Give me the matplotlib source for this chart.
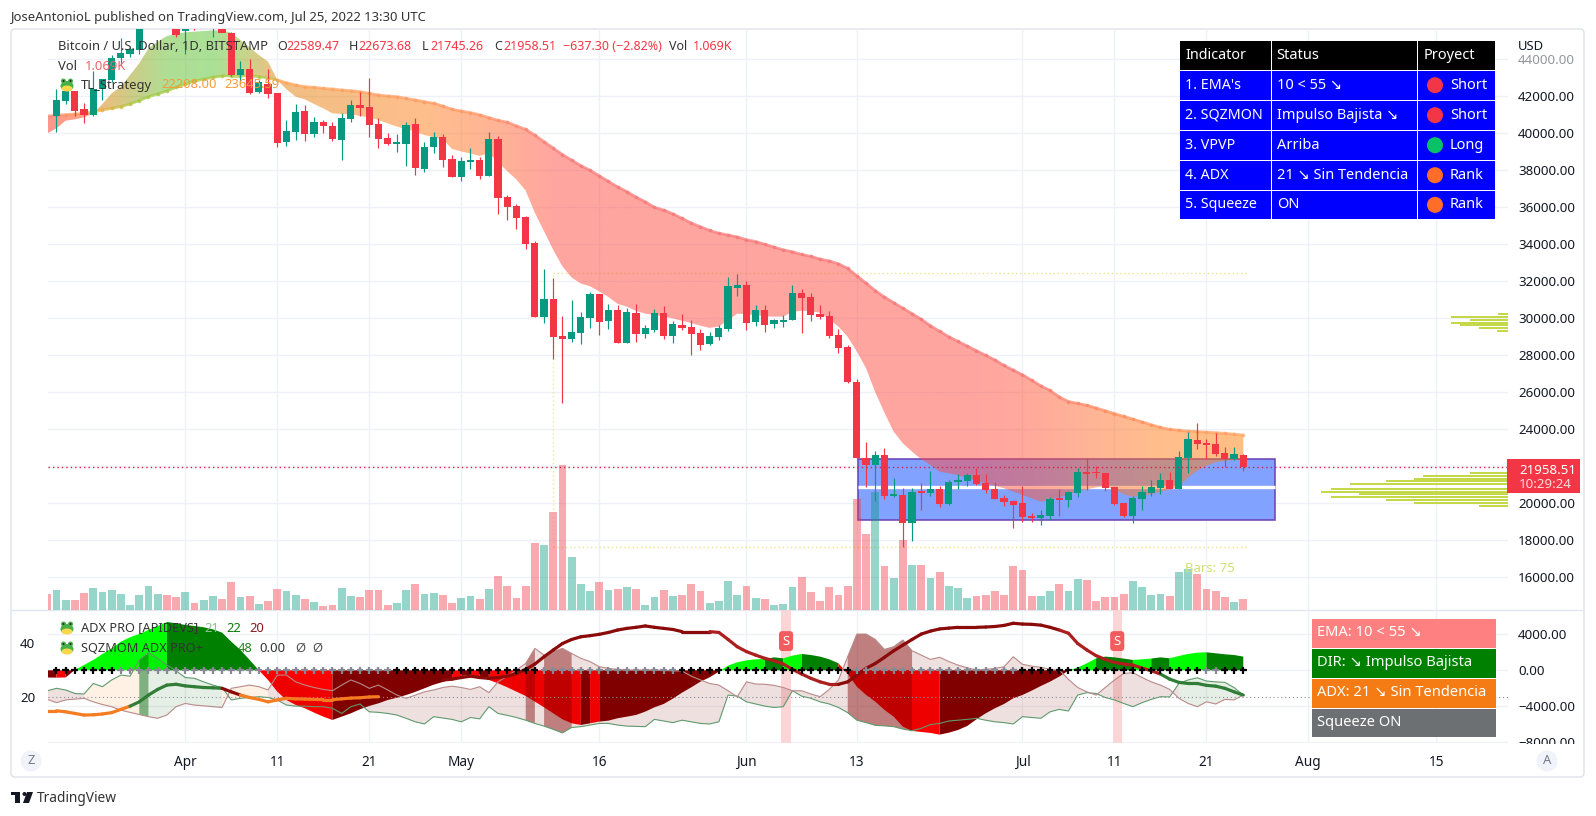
import numpy as np
import matplotlib
matplotlib.use("Agg")
import matplotlib.pyplot as plt
from matplotlib.patches import FancyBboxPatch, Ellipse, Rectangle, Polygon
from matplotlib.transforms import IdentityTransform

plt.rcParams["font.family"] = ["Noto Sans", "DejaVu Sans"]
W, H = 1596, 816

# ---------- DATA: day index 0 = 2022-03-18 ----------
opens = [40935,41746,42286,41313,40971,42376,42881,44052,44287,44503,
 46800,47130,47450,47070,45530,46280,45810,46400,46600,45440,
 43150,43476,42250,42665,42160,39530,40088,41205,39962,40610,
 40394,39637,40773,41530,41421,40502,39745,39421,39421,40502,
 38070,39259,39782,38593,37656,38467,38557,37692,39692,36538,
 36070,35457,34052,30087,31024,29024,28898,29222,30033,31313,
 29871,30447,28682,30286,29168,29366,30286,29042,29618,29528,
 29204,28591,29006,29420,31655,31799,29799,30447,29691,29817,
 29925,31367,31150,30231,30123,29096,28430,26573,22430,22088,
 22610,20394,20450,18950,20610,20555,20770,19962,21150,21205,
 21530,21079,20773,20286,20106,20016,19313,19223,19313,20232,
 20178,20574,21692,21656,21638,20863,20016,19313,20250,20574,
 20827,21259,20773,22430,23422,23277,23205,22700,22412,22589]
highs = [42376,42700,42286,41620,43350,42953,44232,45134,44683,46900,
 48200,48100,47700,47600,46700,47200,47450,46880,47200,45500,
 43908,44016,42880,43458,42160,40718,41566,41530,40863,40718,
 40610,41115,41800,42250,42971,40809,39990,39962,40592,40809,
 39511,40070,39962,38827,38701,39187,38701,40052,39854,36664,
 36178,35529,34196,32646,32160,30123,30970,30340,31403,31313,
 30772,30700,30538,30772,29618,30502,30646,29835,30231,29889,
 29402,29258,29654,32214,32394,31997,30700,30700,29979,30159,
 31781,31565,31349,30700,30376,29402,28555,26700,23295,22827,
 22970,21350,20810,20810,21080,21746,20935,21260,21580,21620,
 21890,21583,21169,20448,20178,20935,19457,19620,20322,20755,
 20683,21890,22430,22016,21638,20863,20016,20394,20935,21259,
 21620,21710,22827,23872,24340,23457,23782,23025,23043,22673]
lows = [40088,41584,40935,40575,40935,41800,42791,43692,44142,44300,
 46650,46950,46600,45200,44287,45600,45700,45190,45600,43100,
 42791,42124,42160,41890,39240,39331,39637,39601,39818,40034,
 39601,38556,40628,40935,39818,39205,39367,38970,38232,37745,
 37926,38917,38196,37656,37440,38088,37548,37692,35637,35313,
 34844,33745,30087,29763,27800,25438,28735,28628,29492,29114,
 29438,28682,28682,28735,28952,29258,28898,28682,29366,28015,
 28285,28555,28826,29330,31222,29366,29600,29258,29493,29546,
 29907,29222,29871,29979,28916,28141,26483,22400,20900,20140,
 20250,20320,17655,17980,19640,20412,19820,19890,20790,20935,
 21007,20575,20214,19871,18682,19007,18988,18845,19097,19331,
 19818,20358,20719,21350,20683,19890,19250,18953,19637,20412,
 20502,20773,20773,21620,22953,22412,22575,21980,22340,21745]
closes = [41800,42268,41205,40989,42376,42935,44052,44340,44539,46800,
 47130,47450,47070,45314,46280,45810,46400,46600,45440,43150,
 43476,42160,42755,42124,39493,40124,41133,39962,40610,40412,
 39691,40827,41530,41367,40448,39709,39403,39457,40448,38142,
 39259,39781,38557,37656,38503,38557,37692,39692,36520,36034,
 35439,34016,30087,31024,29006,28898,29240,30069,31313,29817,
 30447,28682,30340,29168,29475,30286,29042,29691,29475,29168,
 28555,29042,29475,31745,31799,29763,30447,29655,29907,29907,
 31367,31114,30195,30087,29060,28411,26573,22430,22088,22610,
 20394,20484,18950,20610,20555,20770,19962,21150,21260,21510,
 21043,20719,20250,20088,19908,19277,19223,19349,20214,20196,
 20610,21692,21602,21620,20827,19962,19313,20286,20610,20880,
 21259,20773,22503,23476,23205,23169,22647,22412,22665,21958.51]

# from day -1 (2022-03-17) to day 129 (2022-07-25)
volume_k = [1.6,2.0,1.0,1.0,1.7,2.2,1.8,2.0,1.6,0.5,1.5,2.4,1.6,1.5,1.3,1.8,0.7,1.0,1.4,1.1,
 2.8,1.3,1.4,0.6,0.9,2.1,1.9,1.5,1.1,0.8,0.4,0.5,2.2,1.4,1.3,2.0,2.0,0.5,0.7,2.0,2.6,1.6,1.7,1.5,0.7,
 1.2,1.4,1.1,2.1,3.4,2.4,1.2,2.4,6.7,6.5,9.8,14.5,5.3,2.6,1.9,2.8,2.0,2.1,2.3,2.1,0.5,1.3,2.0,1.4,1.5,
 2.6,1.9,0.7,0.9,2.9,1.5,2.4,1.2,1.1,0.5,0.6,2.3,3.3,1.8,0.9,2.3,1.5,2.4,11.1,7.6,11.8,4.4,3.2,7.0,4.5,
 4.5,3.2,3.8,2.4,2.2,1.2,1.4,1.5,1.9,1.5,4.4,4.0,1.4,1.4,1.9,2.6,1.9,3.1,3.0,0.9,1.3,1.3,1.6,2.9,2.3,
 1.5,1.6,1.4,3.8,4.1,3.6,2.1,1.9,1.3,0.8,1.07]

ema_slow = [40935,40971,41007,41043,41079,41169,41259,41349,41440,41584,41764,41980,42124,42286,42484,42647,
 42827,42917,43025,43097,43115,43115,43097,43061,42990,42880,42737,42611,42520,42484,42430,42394,42340,
 42304,42250,42160,42070,42016,41980,41890,41800,41710,41620,41475,41300,41200,41120,41000,40850,40700,
 40600,40400,40214,39900,39550,39200,38850,38550,38250,38000,37700,37400,37100,36850,36550,36300,36000,
 35850,35650,35400,35150,34950,34750,34600,34500,34400,34250,34150,34000,33850,33700,33600,33450,33350,
 33200,33100,32950,32700,32300,31900,31500,31150,30850,30550,30250,29950,29600,29300,29000,28750,28500,
 28250,28000,27750,27450,27200,26950,26650,26350,26100,25750,25500,25400,25300,25150,25000,24850,24700,
 24550,24400,24250,24100,24000,23950,23900,23880,23850,23820,23780,23740,23690]
ema_fast = [40000,40268,40683,40755,40863,41079,41584,42160,42520,43151,43782,44593,44953,45260,45368,45458,
 45494,45530,45566,45548,45440,45043,44647,44233,43872,42880,42376,41980,41836,41584,41349,41079,41043,
 41025,40935,40863,40719,40538,40358,40232,40088,39908,39781,39674,39150,39020,38910,38780,38920,38450,
 37950,37500,36900,35700,34700,33700,32800,32200,31880,31730,31450,31150,30780,30630,30400,30250,30180,
 30100,29990,29870,29740,29600,29480,29560,29900,30250,30220,30170,30100,30090,30090,30350,30410,30380,
 30300,29950,29550,29000,28200,27300,26000,24900,23870,23241,22790,22376,22070,21710,21620,21510,21350,
 21223,21079,20950,20810,20630,20448,20270,20088,20178,20322,20485,20630,20755,20863,20935,20755,20485,
 20358,20412,20502,20610,20755,20863,21403,21764,22034,22214,22304,22340,22376]

momentum = [-800,-815,-800,50,590,1150,1815,2445,3185,3670,4040,4480,4925,5370,5220,5040,4925,4780,4555,4185,
 3185,2260,1150,0,-1075,-2370,-3300,-3850,-4220,-4700,-5150,-5520,-5150,-4780,-4330,-3960,-3670,-3300,
 -3050,-2750,-2400,-2000,-1600,-1300,-1000,-630,-520,-700,-1075,-1445,-1890,-2370,-2850,-3480,-4110,-4780,
 -5445,-5890,-6075,-5890,-5700,-5590,-5330,-5150,-4960,-4590,-4110,-3740,-3150,-2480,-1890,-1260,-780,-150,
 520,890,1110,1220,1260,1440,1330,1630,1815,1700,1520,1220,780,-400,-1815,-2740,-3480,-4400,-5150,-6260,
 -6740,-6850,-6960,-7150,-6930,-6630,-6185,-5445,-4780,-4220,-3740,-3110,-2740,-2260,-1740,-1260,-700,-30,
 300,780,1330,1520,1440,1300,1150,1220,1300,1440,1330,1590,1815,1960,2000,1890,1780,1700,1520]
mom_state = (list("MMRM") + ["L"]*10 + ["G"]*10 + ["R"]*8 + ["M"]*13 + list("RMRM") + ["R"]*10 + list("MR")
 + ["M"]*13 + ["L"]*5 + ["G"]*2 + ["L"]*2 + ["G"]*4 + ["R"]*11 + ["M"]*14 + ["L"]*3 + ["G"]*4 + ["L"]*2
 + ["G"]*2 + ["L"]*4 + ["G"]*4)

di_plus = [22.2,23.1,22.5,21.2,21.0,24.9,23.7,26.2,28.0,27.6,33.6,36.3,34.2,31.7,29.6,27.1,26.8,25.5,24.3,23.4,
 18.8,19.4,19.7,20.0,19.7,18.8,16.9,16.5,16.5,16.3,16.3,15.7,13.8,16.3,17.3,14.4,14.2,13.8,13.2,12.0,10.7,9.9,
 12.6,12.1,11.6,10.7,12.3,11.8,16.3,13.8,13.1,12.3,11.3,10.1,9.1,7.9,6.6,8.6,8.9,9.5,10.1,10.1,9.5,9.1,9.0,8.9,
 11.6,11.0,10.4,11.3,10.7,10.1,9.9,10.7,20.6,20.2,18.1,17.3,16.5,16.0,16.3,22.2,20.2,19.4,18.1,17.3,16.0,14.1,
 11.3,10.4,9.4,9.2,8.9,8.0,7.4,8.3,9.7,10.1,11.0,11.3,11.6,12.0,11.3,10.7,10.4,9.9,12.6,12.3,12.0,14.4,15.3,14.7,
 20.6,21.5,21.2,19.7,18.8,17.5,16.3,17.8,19.0,20.0,19.9,24.9,26.2,27.0,25.8,25.5,25.3,23.4,20.6]
di_minus = [19.0,17.8,18.8,19.1,19.4,18.1,17.1,16.3,15.0,14.2,13.4,12.6,12.0,13.2,16.3,17.5,16.9,16.6,16.3,16.0,
 23.1,23.7,24.3,23.7,22.5,28.0,28.0,25.5,24.3,23.4,22.7,22.2,24.3,26.2,24.9,23.1,24.3,22.5,20.6,19.4,20.6,21.8,
 22.5,23.4,23.9,23.4,22.7,23.7,21.5,25.5,27.6,29.9,32.3,37.9,35.4,36.7,37.9,36.0,34.2,33.0,31.1,30.5,30.1,29.9,
 29.9,29.9,29.9,29.7,29.6,29.5,27.6,26.2,24.9,24.3,22.2,20.0,25.5,24.7,24.6,24.2,23.4,22.2,22.2,21.0,20.0,22.7,
 26.2,34.8,43.2,43.2,41.2,37.5,38.5,41.0,37.0,35.4,33.8,34.6,33.0,31.7,30.7,29.9,30.1,30.5,31.1,34.8,32.0,31.3,
 30.9,30.1,29.9,26.4,23.4,21.8,20.6,23.4,26.2,28.6,28.9,27.1,25.5,24.3,22.7,19.4,17.5,16.3,18.1,17.3,19.0,18.8,20.6]
nan = float("nan")
adx = [14.8,14.8,14.4,13.8,13.2,13.3,13.6,14.1,15.3,16.5,18.1,20.6,22.7,24.3,24.6,24.0,23.7,23.4,23.3,23.1,21.8,
 20.6,19.7,19.0,18.1,18.8,19.4,19.2,19.1,19.0,18.9,18.9,19.2,19.5,19.6,19.9,20.0,nan,nan,nan,nan,nan,nan,
 26.2,26.5,27.1,27.6,27.1,26.8,27.1,27.6,28.6,30.1,32.1,34.8,37.3,39.7,41.2,42.2,42.6,43.1,43.8,44.7,45.3,45.7,
 46.2,45.7,45.3,44.9,44.1,44.1,44.1,44.1,43.8,41.2,38.5,36.7,35.4,34.2,33.3,32.1,30.1,28.4,26.8,25.5,24.6,24.6,25.5,
 28.0,30.5,32.3,34.6,37.0,39.1,41.2,43.2,44.3,45.1,45.4,45.7,45.7,45.7,45.8,46.0,46.4,47.2,46.9,46.8,46.5,45.7,44.7,
 43.5,39.7,37.3,35.2,33.8,32.7,32.1,31.7,30.6,29.6,28.4,26.5,25.3,24.9,24.9,24.2,23.9,23.1,21.8,20.6]
adx_state = (["o"]*10 + ["g"]*10 + ["m"]*2 + ["o"]*21 + ["m"]*30 + ["f"]*14 + ["m"]*24 + ["f"]*11 + ["g"]*9)
di_state = (["p"]*5 + ["o"]*6 + ["D"] + ["g"]*8 + ["o"]*5 + ["p"]*28 + ["R"] + ["p"] + ["R"]*3 + ["p"]*30
 + ["R"]*7 + ["p"]*29 + ["g"]*7)
squeeze_on = ([1]*7 + [0]*30 + [1]*16 + [0]*15 + [1]*19 + [0]*18 + [1]*20 + [0]*2 + [1]*3)  # from day 0
sell_days = [79, 115]

vp_prices = [30215,30052,29890,29764,29620,29476,29332,21619,21475,21313,21187,21043,20790,20628,20484,20321,20177,20033,19871]
vp_volume = [10,57,38,57,48,29,11,38,85,94,122,158,177,187,149,177,122,94,29]

box_top, box_bottom, box_mid = 22410, 19080, 20897
box_start, box_end = 87.15, 132.4
pivot_high, pivot_low, pivot_day, pivot_end = 32432, 17655, 54, 129.5
last_price = 21958.51

price_ticks = list(range(16000, 44001, 2000))
osc_ticks = [4000, 0, -4000, -8000]
adx_ticks = [40, 20]
date_ticks = [14, 24, 34, 44, 59, 75, 87, 105, 115, 125, 136, 150]
date_labels = ["Apr", "11", "21", "May", "16", "Jun", "13", "Jul", "11", "21", "Aug", "15"]
month_labels = {"Apr", "May", "Jun", "Jul", "Aug"}

table_rows = [("Indicator", "Status", "Proyect", None),
              ("1. EMA's", "10 < 55 ↘", "Short", "#f23645"),
              ("2. SQZMON", "Impulso Bajista ↘", "Short", "#f23645"),
              ("3. VPVP", "Arriba", "Long", "#0ac266"),
              ("4. ADX", "21 ↘ Sin Tendencia", "Rank", "#ff6d28"),
              ("5. Squeeze", "ON", "Rank", "#ff6d28")]
status_rows = [("EMA: 10 < 55 ↘", "#ff8080"), ("DIR: ↘ Impulso Bajista", "#008000"),
               ("ADX: 21 ↘ Sin Tendencia", "#f57c14"), ("Squeeze ON", "#6d7072")]

assert len(opens) == len(highs) == len(lows) == len(closes) == 130, (len(opens), len(highs), len(lows), len(closes))
for name, a in dict(v=volume_k, s=ema_slow, f=ema_fast, m=momentum, ms=mom_state, p=di_plus, n=di_minus,
                    a=adx, st=adx_state, d=di_state).items():
    assert len(a) == 131, (name, len(a))
assert len(squeeze_on) == 130

# ---------- FIGURE ----------
fig = plt.figure(figsize=(W / 100, H / 100), dpi=100, facecolor="white")
ident = IdentityTransform()
PX_L, PX_R, PX_T, PX_M, PX_B = 48, 1507.6, 29, 610, 743
XMIN, XMAX = -0.92, 157.73
SC_P = 0.0185
P_TOP, P_BOT = 20000 + (503.3 - PX_T) / SC_P, 20000 + (503.3 - PX_M) / SC_P
O_TOP, O_BOT = (670.3 - PX_M) / 0.009, (670.3 - PX_B) / 0.009
A_TOP, A_BOT = 20 + (696.7 - PX_M) / 2.7, 20 + (696.7 - PX_B) / 2.7


def add_ax(top, bottom, z):
    a = fig.add_axes([PX_L / W, 1 - bottom / H, (PX_R - PX_L) / W, (bottom - top) / H])
    a.set_xlim(XMIN, XMAX)
    a.set_zorder(z)
    for s in a.spines.values():
        s.set_visible(False)
    a.patch.set_visible(False)
    return a


def T(x, y, s, color="#131722", size=9.6, weight="normal", ha="left", z=8):
    return fig.text(x, H - y, s, transform=ident, color=color, fontsize=size, fontweight=weight,
                    ha=ha, va="center", zorder=z)


def R(x0, y0, x1, y1, color, z=5):
    fig.add_artist(Rectangle((x0, H - y1), x1 - x0, y1 - y0, transform=ident, facecolor=color,
                             edgecolor="none", zorder=z))


def frog(cx, cy):
    fig.add_artist(Ellipse((cx, H - cy - 1), 13, 10, transform=ident, fc="#47b04b", ec="none", zorder=7))
    fig.add_artist(Ellipse((cx, H - cy - 3.5), 11, 6, transform=ident, fc="#f7d84a", ec="none", zorder=7))
    for dx in (-3.5, 3.5):
        fig.add_artist(Ellipse((cx + dx, H - cy + 4), 5, 5, transform=ident, fc="#47b04b", ec="none", zorder=7))
        fig.add_artist(Ellipse((cx + dx, H - cy + 4), 2, 2, transform=ident, fc="#20301f", ec="none", zorder=7))


def runs(states):
    """Index ranges of consecutive segments that share a state."""
    out, start = [], 1
    for i in range(2, len(states) + 1):
        if i == len(states) or states[i] != states[start]:
            out.append((start - 1, i - 1, states[start]))
            start = i
    return out


GRID = "#eff1f6"
days = np.arange(-1, 130)
cdays = np.arange(0, 130)

# ---- main pane: background layer (grid, box, price axis)
ax_bg = add_ax(PX_T, PX_M, 0)
ax_bg.set_ylim(P_BOT, P_TOP)
ax_bg.set_yticks(price_ticks)
ax_bg.set_yticklabels([f"{v:.2f}" for v in price_ticks])
ax_bg.yaxis.tick_right()
ax_bg.tick_params(axis="y", length=0, pad=7.5, labelsize=9.6, labelcolor="#131722")
ax_bg.get_yticklabels()[-1].set_alpha(0.45)
ax_bg.set_xticks(date_ticks)
ax_bg.tick_params(axis="x", length=0, labelbottom=False)
ax_bg.grid(True, color=GRID, lw=1)
ax_bg.set_axisbelow(True)
ax_bg.add_patch(Rectangle((box_start, box_bottom), box_end - box_start, box_top - box_bottom,
                          facecolor="#82a2ff", edgecolor="#6a3fb5", lw=1.1, zorder=2))
ax_bg.plot([box_start, box_end], [box_mid, box_mid], color="white", lw=2.4, zorder=3, solid_capstyle="butt")
ax_bg.plot([pivot_day, pivot_day], [pivot_low, pivot_high], color="#eceb9a", lw=1, ls=(0, (1, 2)), zorder=3)
ax_bg.plot([pivot_day, pivot_end], [pivot_high, pivot_high], color="#e6e68c", lw=1, ls=(0, (1, 2)), zorder=3)
ax_bg.plot([pivot_day, pivot_end], [pivot_low, pivot_low], color="#e6e68c", lw=1, ls=(0, (1, 2)), zorder=3)

# ---- volume layer
ax_vol = add_ax(PX_T, PX_M, 1)
ax_vol.set_ylim(0, (PX_M - PX_T) / 10)
ax_vol.set_xticks([]); ax_vol.set_yticks([])
vol_up = [False] + [c >= o for c, o in zip(closes, opens)]
ax_vol.bar(days, volume_k, width=0.86, color=["#089981" if u else "#f23645" for u in vol_up], alpha=0.42, lw=0)

# ---- volume profile layer
ax_vp = add_ax(PX_T, PX_M, 1)
ax_vp.set_xlim(PX_R - PX_L, 0)
ax_vp.set_ylim(P_BOT, P_TOP)
ax_vp.set_xticks([]); ax_vp.set_yticks([])
ax_vp.barh(vp_prices, vp_volume, height=112, color="#c5d84a", lw=0)

# ---- candles and ribbon
ax = add_ax(PX_T, PX_M, 2)
ax.set_ylim(P_BOT, P_TOP)
ax.set_xticks([]); ax.set_yticks([])


def premix(c):
    return [max(0, min(1, (2 * v - 255) / 255)) for v in c]


band_stops = [-1, 3.5, 5, 8, 12, 17, 20, 24, 40, 48, 54, 100, 106, 112, 120, 129]
band_rgb = [(255, 150, 140), (255, 165, 130), (235, 190, 125), (205, 205, 135), (175, 222, 148), (170, 225, 150),
            (195, 215, 140), (240, 190, 130), (255, 190, 140), (255, 180, 150), (255, 165, 160), (255, 165, 160),
            (255, 170, 155), (255, 180, 150), (255, 190, 140), (255, 190, 130)]
n_grad = 520
gx = np.linspace(-1, 129, n_grad)
grad = np.zeros((1, n_grad, 4))
for i in range(3):
    grad[0, :, i] = np.interp(gx, band_stops, [premix(c)[i] for c in band_rgb])
grad[0, :, 3] = 0.5
ribbon = ax.fill_between(days, ema_fast, ema_slow, facecolor="none", edgecolor="none", lw=0)
im = ax.imshow(grad, extent=(-1, 129, P_BOT, P_TOP), aspect="auto", origin="lower", interpolation="bilinear", zorder=3)
im.set_clip_path(ribbon.get_paths()[0], transform=ax.transData)
ax.set_xlim(XMIN, XMAX); ax.set_ylim(P_BOT, P_TOP)

line_stops = [-1, 4, 9, 23, 24.5, 45, 55, 105, 115, 129]
line_rgb = [(250, 130, 120), (250, 165, 60), (160, 200, 60), (170, 200, 60), (255, 165, 90), (255, 150, 100),
            (245, 120, 120), (245, 120, 120), (255, 140, 90), (255, 165, 100)]
for i in range(len(days) - 1):
    mid = days[i] + 0.5
    col = [np.interp(mid, line_stops, [c[k] for c in line_rgb]) / 255 for k in range(3)]
    ax.plot(days[i:i + 2], ema_slow[i:i + 2], color=col, lw=2.0, alpha=0.7, zorder=4, solid_capstyle="butt")
    ax.plot([days[i + 1]], [ema_slow[i + 1]], "o", ms=2.6, mfc=col, mec="none", alpha=0.75, zorder=4)

UP, DOWN = "#089981", "#f23645"
ccol = [UP if c >= o else DOWN for c, o in zip(closes, opens)]
ax.vlines(cdays, lows, highs, colors=ccol, lw=0.85, zorder=5)
ax.bar(cdays, [max(abs(c - o), 90) for c, o in zip(closes, opens)], bottom=[min(c, o) for c, o in zip(closes, opens)],
       width=0.78, color=ccol, lw=0, zorder=6)
ax.axhline(last_price, color="#d6204a", lw=1, ls=(0, (1, 2.2)), zorder=7)

# ---- oscillator pane
ax_s = add_ax(PX_M, PX_B, 1)
ax_s.set_ylim(O_BOT, O_TOP)
ax_s.set_yticks(osc_ticks)
ax_s.set_yticklabels(["4000.00", "0.00", "−4000.00", "−8000.00"])
ax_s.yaxis.tick_right()
ax_s.tick_params(axis="y", length=0, pad=7.5, labelsize=9.6, labelcolor="#131722")
ax_s.set_xticks(date_ticks)
ax_s.set_xticklabels(date_labels)
ax_s.tick_params(axis="x", length=0, pad=8.5, labelsize=9.8, labelcolor="#131722")
for t, s in zip(ax_s.get_xticklabels(), date_labels):
    if s in month_labels:
        t.set_fontweight("bold")
ax_s.grid(True, color=GRID, lw=1)
ax_s.set_axisbelow(True)
for d in sell_days:
    ax_s.axvspan(d - 0.2, d + 0.8, color="#fcd6d6", lw=0, zorder=0.6)
mom_col = {"L": "#00ff00", "G": "#008000", "R": "#ff0000", "M": "#800000"}
for i0, i1, st in runs(mom_state):
    c = mom_col[st]
    ax_s.fill_between(days[i0:i1 + 1], momentum[i0:i1 + 1], 0, facecolor=c, edgecolor="none", lw=0, zorder=1)

ax_a = add_ax(PX_M, PX_B, 2)
ax_a.set_ylim(A_BOT, A_TOP)
ax_a.set_yticks(adx_ticks)
ax_a.set_xticks([])
ax_a.tick_params(axis="y", length=0, pad=9, labelsize=9.6, labelcolor="#131722")
di_col = {"p": (0.5, 0, 0, 0.12), "R": (0.5, 0, 0, 0.5), "o": (1, 0.5, 0, 0.1), "g": (0, 0.39, 0, 0.1), "D": (0, 0.39, 0, 0.5)}
for i0, i1, st in runs(di_state):
    ax_a.fill_between(days[i0:i1 + 1], di_plus[i0:i1 + 1], di_minus[i0:i1 + 1], facecolor=di_col[st],
                      edgecolor="none", lw=0, zorder=1)
ax_a.plot(days, di_plus, color="#5f9a6c", lw=0.8, zorder=2)
ax_a.plot(days, di_minus, color="#b98a8a", lw=0.8, zorder=2)
ax_a.axhline(20, color="#8a8e99", lw=0.8, ls=(0, (1, 2.5)), zorder=2)
adx_col = {"o": "#f57c20", "g": "#2f7d36", "m": "#8b0a0a", "f": "#ad1f1f"}
for i in range(len(days) - 1):
    ax_a.plot(days[i:i + 2], adx[i:i + 2], color=adx_col[adx_state[i + 1]], lw=2.3, zorder=3, solid_capstyle="round")
zero = [0] * 130
ax_a2 = add_ax(PX_M, PX_B, 3)
ax_a2.set_ylim(O_BOT, O_TOP)
ax_a2.set_xticks([]); ax_a2.set_yticks([])
ax_a2.scatter(cdays, zero, marker="+", s=24, linewidths=1.6,
              c=["#000000" if q else "#868993" for q in squeeze_on], zorder=4)
for d in sell_days:
    ax_a2.annotate("S", (d + 0.3, 3250), color="white", fontsize=9.5, fontweight="bold", ha="center", va="center",
                   bbox=dict(boxstyle="round,pad=0.26", fc="#f25c5c", ec="none"), zorder=5)

# ---- frame, axis edges
fig.add_artist(FancyBboxPatch((11, H - 777), 1573, 748, boxstyle="round,pad=0,rounding_size=4", transform=ident,
                              fc="none", ec="#dfe2ea", lw=1, zorder=-1))
fig.add_artist(plt.Line2D([PX_L - 37, PX_R + 76], [H - PX_M, H - PX_M], transform=ident, color="#e3e6ee", lw=1, zorder=1))
R(1509, 743.5, 1583, 752, "white", z=2)
T(1518, 46, "USD", size=9.4)

# ---- header / footer
T(10, 17, "JoseAntonioL published on TradingView.com, Jul 25, 2022 13:30 UTC", color="#333333", size=9.4)
R(11, 792, 20, 795, "#131722"); R(15, 795, 20, 803, "#131722")
fig.add_artist(Polygon([(27, H - 792), (33, H - 792), (29, H - 803), (23, H - 803)], transform=ident, fc="#131722", ec="none", zorder=5))
fig.add_artist(Ellipse((24.5, H - 794), 4, 4, transform=ident, fc="#131722", ec="none", zorder=5))
T(37, 798, "TradingView", color="#333333", size=9.9, weight="medium")
for cx, s in ((31, "Z"), (1547, "A")):
    fig.add_artist(Ellipse((cx, H - 761), 21, 21, transform=ident, fc="#f0f3fa", ec="none", zorder=5))
    T(cx, 761, s, color="#787b86", size=9.4, ha="center")

# ---- legends
T(58, 47, "Bitcoin / U.S. Dollar, 1D, BITSTAMP", size=9.35, color="#333333")
for x, s, c in ((277, "O", "#333333"), (286, "22589.47", DOWN), (349, "H", "#333333"), (358, "22673.68", DOWN),
                (422, "L", "#333333"), (430, "21745.26", DOWN), (494, "C", "#333333"), (503, "21958.51", DOWN),
                (563, "−637.30 (−2.82%)", DOWN), (669, "Vol", "#333333"), (693, "1.069K", DOWN)):
    T(x, 47, s, color=c, size=9.0)
T(58, 66, "Vol", size=9.35, color="#333333")
T(85, 66, "1.069K", size=9.35, color="#f0616d")
frog(67, 85)
T(81, 85, "TL_Strategy", size=9.35, color="#333333")
T(161, 85, "22208.00", size=9.35, color="#f89a3c")
T(224, 85, "23645.59", size=9.35, color="#f89a3c")

frog(67, 628)
T(81, 628, "ADX PRO [APIDEVS]", size=9.2, color="#333333")
T(204, 628, "21", size=9.4, color="#8fc08f")
T(226, 628, "22", size=9.4, color="#0c7a0c")
T(249, 628, "20", size=9.4, color="#8b1a1a")
frog(67, 648)
T(81, 648, "SQZMOM ADX PRO+", size=9.2, color="#333333")
T(238, 648, "48", size=9.4, color="#1f8a1f")
T(259, 648, "0.00", size=9.4, color="#333333")
T(295, 648, "Ø", size=9.4, color="#555555")
T(312, 648, "Ø", size=9.4, color="#555555")
T(1185, 568, "Bars: 75", size=9.4, color="#cfe070", z=4)

# ---- indicator table
col_x = [1180, 1271.7, 1418.3, 1496]
row_y = [41, 70.7, 100.7, 130.7, 160.7, 190.7, 220]
for r, (a, b, c, dot) in enumerate(table_rows):
    fill = "#000000" if r == 0 else "#0000ff"
    y0, y1 = row_y[r], row_y[r + 1] - 1
    cy = (row_y[r] + row_y[r + 1]) / 2 - 0.5
    for k in range(3):
        R(col_x[k], y0, col_x[k + 1] - 1, y1, fill)
    T(col_x[0] + 5, cy, a, color="white", size=10.3)
    T(col_x[1] + 5, cy, b, color="white", size=10.5)
    if dot:
        fig.add_artist(Ellipse((1435, H - cy), 16, 16, transform=ident, fc=dot, ec="none", zorder=7))
        T(1450, cy, c, color="white", size=10.5)
    else:
        T(col_x[2] + 5, cy, c, color="white", size=10.5)

# ---- status table
st_y = [619, 649, 679, 709, 738]
for r, (s, c) in enumerate(status_rows):
    R(1312, st_y[r], 1496, st_y[r + 1] - 1, c)
    T(1317, (st_y[r] + st_y[r + 1]) / 2 - 1, s, color="#f2fff2" if c == "#008000" else "white", size=10.6)

# ---- last price tag
R(1507, 459, 1580, 493.3, "#f23645", z=6)
T(1519, 470, f"{last_price:.2f}", color="white", size=9.6, weight="bold")
T(1519, 485, "10:29:24", color="#ffd9dc", size=9.6)

fig.savefig("out.png", dpi=100, facecolor="white")
